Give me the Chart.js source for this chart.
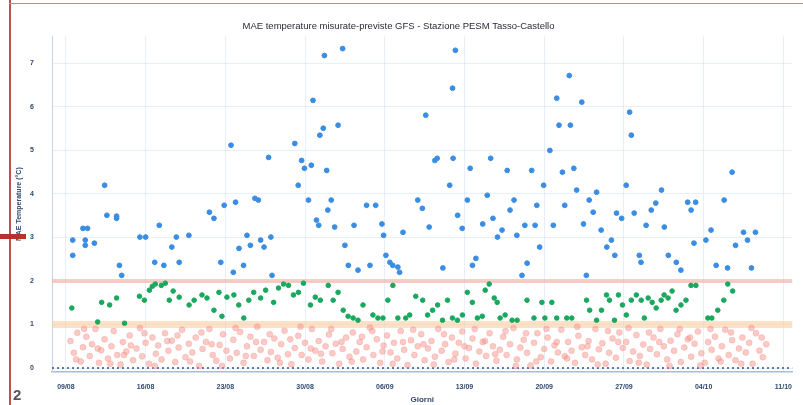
<!DOCTYPE html>
<html><head><meta charset="utf-8">
<script src="https://cdn.jsdelivr.net/npm/chart.js@4/dist/chart.umd.min.js"></script>
<style>
html,body{margin:0;padding:0;background:#fff;}
#wrap{position:relative;width:803px;height:405px;overflow:hidden;background:#fff;}
#c{position:absolute;left:0;top:0;}
.vline{position:absolute;left:9px;top:0;width:2px;height:405px;background:#c0504d;}
.hline{position:absolute;left:9px;top:3px;width:794px;height:1px;background:#d08080;}
.mark{position:absolute;left:0;top:234px;width:26px;height:5px;background:#b8312f;}
.pg{position:absolute;left:13px;top:386px;font:bold 15px 'Liberation Sans',Arial,sans-serif;color:#555;}
</style></head>
<body><div id="wrap">
<canvas id="c" width="803" height="405"></canvas>
<div class="vline"></div><div class="hline"></div><div class="mark"></div><div class="pg">2</div>
</div>
<script>
const TITLE = 'MAE temperature misurate-previste GFS - Stazione PESM Tasso-Castello';
const X_TITLE = 'Giorni';
const Y_TITLE = 'MAE Temperature (°C)';
const xTickDays = [0,7,14,21,28,35,42,49,56,63];
const xTickLabels = ['09/08','16/08','23/08','30/08','06/09','13/09','20/09','27/09','04/10','11/10'];
const yTicks = [0,1,2,3,4,5,6,7];
const bandLevels = [1,2];

// blue: MAE > 2
const blueDays = [0.6,0.6,1.5,1.7,1.7,1.9,2.5,3.4,3.6,4.45,4.45,4.7,4.9,6.5,7.0,7.8,8.2,8.6,9.3,9.7,9.95,10.8,12.6,13.0,13.6,13.9,14.5,14.7,14.9,15.2,15.6,15.9,16.2,16.6,16.9,17.1,17.4,17.8,18.0,18.1,20.1,20.4,20.7,20.95,21.3,21.55,21.7,22.0,22.2,22.3,22.6,22.7,22.9,23.0,23.3,23.6,23.9,24.3,24.5,24.8,25.3,25.65,26.4,26.7,27.2,27.75,27.9,28.1,28.45,28.7,29.15,29.3,29.6,30.9,31.3,31.6,31.9,32.4,32.6,33.1,33.7,33.95,34.0,34.2,34.4,34.8,35.25,35.5,35.7,36.0,36.6,37.0,37.3,37.5,37.9,38.3,38.75,39.0,39.35,39.6,40.05,40.3,40.5,40.9,41.2,41.35,41.6,41.95,42.5,42.8,43.1,43.3,43.6,43.8,44.2,44.3,44.6,44.85,45.3,45.45,45.7,45.95,46.3,46.6,47.0,47.5,47.9,48.2,48.35,48.8,49.2,49.5,49.65,49.9,50.35,50.5,50.95,51.4,51.8,52.3,52.55,52.9,53.6,54.0,54.6,54.9,55.15,55.3,56.2,56.65,57.1,57.8,58.1,58.5,58.8,59.5,59.85,60.2,60.55];
const blueVals = [2.59,2.94,3.21,2.94,2.82,3.21,2.87,4.2,3.51,3.49,3.44,2.36,2.13,3.01,3.01,2.43,3.28,2.36,2.78,3.01,2.43,3.05,3.58,3.44,2.43,3.74,5.12,2.2,3.81,2.75,2.36,3.05,2.82,3.9,3.86,2.94,2.78,4.84,3.01,2.13,5.16,4.2,4.77,4.59,3.86,4.66,6.15,3.4,3.28,5.35,5.51,7.18,4.54,3.63,3.86,3.24,5.58,7.34,2.82,2.36,3.28,2.25,3.74,2.36,3.74,3.31,3.05,2.59,2.43,2.36,2.32,2.2,3.12,3.86,3.67,5.81,3.24,4.77,4.82,2.3,4.2,6.43,4.82,7.3,3.51,3.21,3.86,4.59,2.36,2.52,3.31,3.97,4.82,3.44,3.01,3.17,4.54,3.63,3.86,3.05,2.13,3.28,2.41,4.54,3.28,3.74,2.78,4.2,5.0,3.28,6.2,5.58,4.5,3.74,6.72,5.58,4.59,4.09,6.11,3.31,2.13,3.86,3.58,4.04,3.17,2.78,2.94,2.59,3.56,3.44,4.2,5.88,5.35,3.56,2.59,2.43,3.28,3.63,3.79,4.09,3.24,2.59,2.43,2.25,3.81,3.63,2.87,3.81,2.94,3.17,2.36,3.86,2.3,4.5,2.82,3.12,2.94,2.3,3.12];

// green: 1 < MAE < 2
const greenDays = [0.52,2.79,3.14,3.84,4.45,5.15,6.46,6.89,7.33,7.59,7.85,8.38,8.73,9.08,9.42,9.95,10.82,11.26,11.95,12.39,13.0,13.44,13.7,14.14,14.75,15.18,15.62,16.06,16.49,17.1,17.54,18.24,18.67,19.11,19.55,19.98,20.42,20.86,21.47,21.9,22.34,23.04,23.47,23.9,24.35,24.78,25.22,25.65,26.09,26.96,27.4,27.84,28.27,28.71,29.15,29.84,30.19,30.72,31.33,31.76,32.2,32.64,33.07,33.51,33.94,34.38,34.82,35.25,35.69,36.13,36.56,36.82,37.17,37.61,37.87,38.13,38.57,39.18,39.62,40.49,41.1,41.8,42.06,42.67,43.1,43.98,44.42,45.72,45.99,46.6,47.03,47.47,47.73,48.17,48.52,48.87,49.21,49.65,50.09,50.52,50.79,51.13,51.48,51.83,52.27,52.53,52.88,53.23,53.58,54.01,54.45,54.89,55.32,56.37,56.72,57.24,57.77,58.12,58.55];
const greenVals = [1.38,1.06,1.51,1.45,1.61,1.03,1.65,1.56,1.79,1.88,1.93,1.9,1.95,1.56,1.77,1.63,1.45,1.56,1.68,1.61,1.33,1.74,1.19,1.63,1.68,1.45,1.15,1.56,1.74,1.61,1.79,1.51,1.84,1.93,1.9,1.68,1.74,1.95,1.45,1.63,1.56,1.9,1.56,1.74,1.33,1.19,1.15,1.1,1.45,1.22,1.15,1.15,1.56,1.9,1.15,1.15,1.22,1.65,1.56,1.22,1.33,1.45,1.1,1.56,1.15,1.1,1.22,1.74,1.51,1.15,1.19,1.79,1.93,1.61,1.51,1.15,1.22,1.1,1.1,1.56,1.15,1.51,1.15,1.51,1.15,1.15,1.15,1.56,1.33,1.1,1.33,1.68,1.56,1.1,1.68,1.45,1.22,1.56,1.68,1.56,1.15,1.61,1.51,1.38,1.56,1.68,1.61,1.77,1.33,1.45,1.56,1.9,1.9,1.15,1.15,1.33,1.56,1.93,1.77];

// red: MAE < 1
const redDays = [0.4,0.7,1.0,1.3,1.5,1.8,2.1,2.3,2.6,2.9,3.1,3.4,3.7,4.0,4.2,4.5,4.8,5.0,5.3,5.6,5.9,6.2,6.5,6.7,7.0,7.3,7.6,7.9,8.1,8.4,8.7,9.0,9.3,9.6,9.9,10.2,10.5,10.8,11.1,11.4,11.7,12.0,12.3,12.6,12.9,13.2,13.5,13.8,14.1,14.4,14.7,15.0,15.3,15.6,15.9,16.2,16.5,16.8,17.1,17.4,17.7,18.0,18.3,18.6,18.9,19.2,19.5,19.8,20.1,20.4,20.7,21.0,21.3,21.6,21.9,22.2,22.5,22.8,23.1,23.4,23.7,24.0,24.3,24.6,24.9,25.2,25.5,25.8,26.1,26.4,26.7,27.0,27.3,27.6,27.9,28.2,28.5,28.8,29.1,29.4,29.7,30.0,30.3,30.6,30.9,31.2,31.5,31.8,32.1,32.4,32.7,33.0,33.3,33.6,33.9,34.2,34.5,34.8,35.1,35.4,35.7,36.0,36.3,36.6,36.9,37.2,37.5,37.8,38.1,38.4,38.7,39.0,39.3,39.6,39.9,40.2,40.5,40.8,41.1,41.4,41.7,42.0,42.3,42.6,42.9,43.2,43.5,43.8,44.1,44.4,44.7,45.0,45.3,45.6,45.9,46.2,46.5,46.8,47.1,47.4,47.7,48.0,48.3,48.6,48.9,49.2,49.5,49.8,50.1,50.4,50.7,51.0,51.3,51.6,51.9,52.2,52.5,52.8,53.1,53.4,53.7,54.0,54.3,54.6,54.9,55.2,55.5,55.8,56.1,56.4,56.7,57.0,57.3,57.6,57.9,58.2,58.5,58.8,59.1,59.4,59.7,60.0,60.3,60.6,60.9,61.2,61.5];
const redVals = [0.62,0.35,0.81,0.15,0.48,0.72,0.28,0.55,0.9,0.12,0.41,0.66,0.22,0.5,0.85,0.3,0.08,0.6,0.38,0.75,0.18,0.45,0.92,0.27,0.58,0.1,0.7,0.33,0.52,0.2,0.8,0.4,0.63,0.14,0.47,0.88,0.25,0.56,0.36,0.7,0.05,0.44,0.6,0.9,0.3,0.17,0.53,0.78,0.4,0.22,0.65,0.35,0.83,0.12,0.5,0.72,0.28,0.95,0.42,0.6,0.18,0.37,0.68,0.24,0.55,0.86,0.32,0.09,0.46,0.74,0.3,0.58,0.2,0.9,0.4,0.62,0.15,0.5,0.77,0.34,0.56,0.1,0.44,0.7,0.26,0.82,0.38,0.6,0.2,0.48,0.93,0.3,0.66,0.12,0.52,0.75,0.36,0.58,0.22,0.85,0.42,0.07,0.64,0.3,0.5,0.78,0.18,0.45,0.62,0.26,0.9,0.4,0.55,0.14,0.7,0.33,0.58,0.84,0.22,0.46,0.68,0.1,0.38,0.6,0.28,0.8,0.5,0.17,0.42,0.72,0.3,0.55,0.92,0.2,0.47,0.65,0.35,0.06,0.58,0.8,0.25,0.44,0.7,0.15,0.52,0.36,0.88,0.27,0.6,0.4,0.12,0.74,0.48,0.3,0.62,0.2,0.9,0.43,0.57,0.1,0.35,0.68,0.24,0.82,0.46,0.6,0.16,0.38,0.76,0.28,0.54,0.08,0.44,0.7,0.32,0.9,0.5,0.2,0.63,0.4,0.78,0.14,0.47,0.66,0.26,0.56,0.84,0.34,0.12,0.6,0.42,0.72,0.22,0.5,0.88,0.3,0.64,0.18,0.45,0.7,0.36,0.58,0.1,0.8,0.4,0.25,0.55];
const redDaysB = [0.9,1.6,2.8,3.9,5.1,5.7,6.9,7.8,8.9,9.8,10.9,11.9,12.8,13.7,14.9,15.8,16.7,17.9,18.8,19.7,20.6,21.5,22.4,23.3,24.2,25.1,26.0,26.9,27.8,28.7,29.6,30.5,31.4,32.3,33.2,34.1,35.0,35.9,36.8,37.7,38.6,39.5,40.4,41.3,42.2,43.1,44.0,44.9,45.8,46.7,47.6,48.5,49.4,50.3,51.2,52.1,53.0,53.9,54.8,55.7,56.6,57.5,58.4,59.3,60.2,61.1];
const redValsB = [0.2,0.9,0.45,0.1,0.3,0.52,0.8,0.05,0.62,0.75,0.15,0.82,0.55,0.05,0.92,0.28,0.6,0.78,0.12,0.66,0.95,0.45,0.33,0.9,0.6,0.15,0.72,0.85,0.38,0.1,0.6,0.88,0.55,0.08,0.78,0.2,0.5,0.9,0.62,0.32,0.85,0.05,0.8,0.15,0.9,0.6,0.22,0.95,0.5,0.08,0.85,0.6,0.92,0.12,0.82,0.6,0.05,0.9,0.7,0.06,0.9,0.15,0.82,0.1,0.92,0.7];

const X_MIN = -1.22, X_MAX = 63.8;
const pts = (xs, ys) => xs.map((x, i) => ({x: x, y: ys[i]}));
const hline = v => [{x: X_MIN, y: v}, {x: X_MAX, y: v}];
const FONT = 'Liberation Sans';

new Chart(document.getElementById('c'), {
  type: 'scatter',
  data: {
    datasets: [
      {label: 'MAE > 2', data: pts(blueDays, blueVals), backgroundColor: '#3a8de2', borderColor: '#3a8de2', pointRadius: 2.4, order: 1},
      {label: '1 < MAE < 2', data: pts(greenDays, greenVals), backgroundColor: '#19a85e', borderColor: '#19a85e', pointRadius: 2.3, order: 1},
      {label: 'MAE < 1', data: pts(redDays, redVals).concat(pts(redDaysB, redValsB)), backgroundColor: 'rgba(244,138,128,0.45)', borderColor: 'rgba(244,138,128,0.3)', pointRadius: 3, order: 2},
      {type: 'line', label: 'soglia 2', data: hline(bandLevels[1]), borderColor: 'rgba(246,170,160,0.6)', borderWidth: 4, pointRadius: 0, order: 5},
      {type: 'line', label: 'soglia 1', data: hline(bandLevels[0]), borderColor: 'rgba(252,205,160,0.6)', borderWidth: 7, pointRadius: 0, order: 5},
      {type: 'line', label: 'zero', data: hline(0), borderColor: '#35507e', borderWidth: 1.5, borderDash: [2, 3], pointRadius: 0, order: 4}
    ]
  },
  options: {
    responsive: false,
    animation: false,
    layout: {padding: {left: 0, right: 6, top: 0, bottom: 0}},
    plugins: {
      legend: {display: false},
      tooltip: {enabled: false},
      title: {display: true, text: TITLE, color: '#2a2a3a', font: {size: 9.5, family: FONT, weight: 'normal'}, padding: {top: 21, bottom: 4}}
    },
    scales: {
      x: {
        type: 'linear', min: X_MIN, max: X_MAX,
        afterBuildTicks: s => { s.ticks = xTickDays.map(v => ({value: v})); },
        afterFit: s => { s.height = 33; },
        ticks: {callback: (v, i) => xTickLabels[i], font: {size: 7, family: FONT, weight: 'bold'}, color: '#2f4a6e', maxRotation: 0, autoSkip: false, padding: 11},
        grid: {color: 'rgba(190,210,235,0.35)', drawTicks: false},
        border: {color: '#a9bdd6', width: 1.5},
        title: {display: true, text: X_TITLE, font: {size: 8, family: FONT, weight: 'bold'}, color: '#2f4a6e', padding: {top: 0, bottom: 0}}
      },
      y: {
        min: -0.09, max: 7.62,
        afterBuildTicks: s => { s.ticks = yTicks.map(v => ({value: v})); },
        afterFit: s => { s.width = 52; },
        ticks: {font: {size: 7, family: FONT, weight: 'bold'}, color: '#2f4a6e', padding: 18},
        grid: {color: 'rgba(190,210,235,0.35)', drawTicks: false},
        border: {color: '#c5d3e6'},
        title: {display: true, text: Y_TITLE, font: {size: 7, family: FONT, weight: 'bold'}, color: '#2f4a6e', padding: {top: 15, bottom: 0}}
      }
    }
  }
});
</script>
</body></html>
